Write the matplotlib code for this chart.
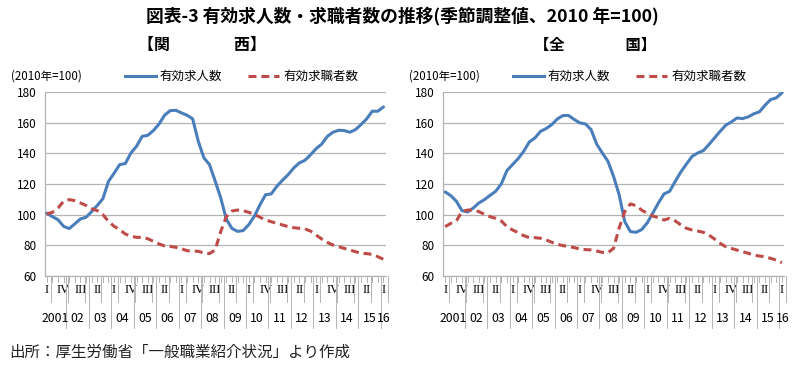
import matplotlib
matplotlib.use("Agg")
import matplotlib.pyplot as plt
import matplotlib.transforms as mtransforms

plt.rcParams['font.family'] = ['Noto Sans CJK JP', 'DejaVu Sans']

# 四半期データ 2001 I 〜 2016 I (季節調整値, 2010年=100)
kansai_offers = [101, 98.7, 96.7, 92.4, 90.9, 94, 97.2, 98.3, 102, 106,
                 110.4, 121.7, 127, 132.6, 133.3, 140.2, 144.6, 151, 151.7, 154.8,
                 159, 164.8, 167.8, 168, 166.3, 164.8, 162.4, 147.8, 137, 132.6,
                 122, 110.9, 97, 91, 89.1, 89.6, 93.5, 99, 106.5, 113,
                 113.5, 118.5, 122.4, 126, 130.4, 133.7, 135.4, 139, 143, 146,
                 151, 153.7, 155, 154.8, 153.7, 155.4, 158.7, 162.4, 167.4, 167.4,
                 170.2]
kansai_seekers = [100.5, 101.5, 104.3, 108.7, 109.8, 109.1, 107.6, 106, 103.9, 102.6,
                  100, 95.6, 92.4, 90.2, 87.4, 85.9, 85.2, 85.2, 84.3, 82.6,
                  80.9, 79.6, 79.3, 78.7, 77.8, 76.5, 76.3, 76.1, 75, 74.6,
                  77, 89, 98.7, 102.4, 103, 102.6, 101.5, 100.2, 98.3, 96.5,
                  95.4, 94.3, 93.3, 92.2, 91.5, 91.1, 90.7, 89.3, 86.7, 84.1,
                  81.9, 80.2, 79.1, 78, 76.9, 75.9, 74.8, 74.6, 74.1, 72.6,
                  70.9]
zenkoku_offers = [114.8, 112.4, 108.7, 102.6, 101.7, 104.3, 107.6, 109.8, 112.6, 115.2,
                  120, 128.7, 132.6, 136.5, 141.3, 147.4, 150, 154.3, 156.1, 158.7,
                  162.4, 164.6, 164.6, 162, 159.8, 159.1, 155.4, 146, 140.2, 134.8,
                  125, 113, 95.5, 89, 88.5, 90.2, 94.6, 101, 107.6, 113.5,
                  115.2, 121.7, 127.8, 133, 138, 140.2, 141.7, 145.7, 150, 154.3,
                  158.3, 160.4, 163, 162.6, 163.7, 165.7, 167, 171.3, 175, 176.1,
                  179.3]
zenkoku_seekers = [92.2, 94.3, 95.9, 102, 103, 103, 102, 100.2, 98.7, 97.6,
                   95.9, 92.2, 90, 88.3, 86.3, 85, 85, 84.6, 83.5, 82,
                   80.7, 79.8, 79.3, 78.5, 77.6, 77.2, 77, 76.3, 75.4, 75.2,
                   78, 91.3, 102, 107, 105.9, 103, 100.9, 99.1, 98, 96.5,
                   97.6, 95.9, 93.3, 91.1, 90, 89.3, 88.5, 86.7, 84.1, 81.3,
                   79.1, 78, 76.9, 75.9, 74.8, 73.7, 73, 72.6, 71.5, 70.4,
                   68.7]

quarter_names = ["I", "II", "III", "IV"]
year_labels = ["2001", "02", "03", "04", "05", "06", "07", "08", "09", "10",
               "11", "12", "13", "14", "15", "16"]
yticks = [60, 80, 100, 120, 140, 160, 180]

BLUE = "#4a7ebb"
RED = "#be4b48"
GRID = "#b4b4b4"
n = len(kansai_offers)
x = list(range(n))

fig = plt.figure(figsize=(8, 3.72), dpi=100)

fig.text(0.503, 0.958, "図表-3 有効求人数・求職者数の推移(季節調整値、2010 年=100)",
         ha="center", va="center", fontsize=12.8, fontweight="bold")
fig.text(0.172, 0.88, "【関　　　　西】", ha="left", va="center", fontsize=11.5, fontweight="bold")
fig.text(0.668, 0.88, "【全　　　　国】", ha="left", va="center", fontsize=11, fontweight="bold")
fig.text(0.012, 0.052, "出所：厚生労働省「一般職業紹介状況」より作成",
         ha="left", va="center", fontsize=11.2, color="#222222")


def draw_panel(rect, offers, seekers, legend_x):
    ax = fig.add_axes(rect)
    ax.plot(x, offers, color=BLUE, lw=2.2, solid_capstyle="round", zorder=3)
    ax.plot(x, seekers, color=RED, lw=2.2, dashes=(2.6, 1.6), zorder=3)
    ax.set_xlim(-0.35, n - 1 + 0.45)
    ax.set_ylim(60, 180)
    ax.set_yticks(yticks)
    ax.tick_params(axis="y", length=0, labelsize=8.5, pad=6)
    ax.yaxis.grid(True, color=GRID, lw=0.9)
    ax.set_axisbelow(True)
    for s in ["top", "right"]:
        ax.spines[s].set_visible(False)
    for s in ["left", "bottom"]:
        ax.spines[s].set_color(GRID)
        ax.spines[s].set_linewidth(0.9)

    # 四半期ラベル (3期ごと)
    ticks = list(range(0, n, 3))
    ax.set_xticks(ticks)
    ax.set_xticklabels([quarter_names[i % 4] for i in ticks],
                       fontfamily="Liberation Serif", fontsize=9)
    ax.tick_params(axis="x", length=0, pad=6)

    trans = mtransforms.blended_transform_factory(ax.transData, ax.transAxes)
    for i in range(n):
        ax.plot([i, i], [0, -0.035], transform=trans, color=GRID, lw=0.7, clip_on=False)
    for t in ticks:
        ax.plot([t + 0.75, t + 0.75], [0, -0.14], transform=trans, color=GRID, lw=0.7, clip_on=False)
    for k, lab in enumerate(year_labels):
        if k < len(year_labels) - 1:
            cx = 4 * k + 1.5
        else:
            cx = 4 * k + 0.1
        ax.text(cx, -0.228, lab, transform=trans, ha="center", va="center", fontsize=8.8)
        if k > 0:
            ax.plot([4 * k - 0.5] * 2, [0, -0.28], transform=trans, color=GRID,
                    lw=0.7, clip_on=False)

    ax.text(-0.1, 1.085, "(2010年=100)", transform=ax.transAxes, fontsize=8.3,
            ha="left", va="center")
    lx = legend_x
    ax.plot([lx, lx + 0.09], [1.085, 1.085], transform=ax.transAxes, color=BLUE, lw=2.2,
            clip_on=False)
    ax.text(lx + 0.1, 1.085, "有効求人数", transform=ax.transAxes, fontsize=9,
            ha="left", va="center")
    ax.plot([lx + 0.36, lx + 0.45], [1.085, 1.085], transform=ax.transAxes, color=RED,
            lw=2.2, dashes=(2.6, 1.6), clip_on=False)
    ax.text(lx + 0.465, 1.085, "有効求職者数", transform=ax.transAxes, fontsize=9,
            ha="left", va="center")
    return ax


draw_panel([0.056, 0.258, 0.4265, 0.495], kansai_offers, kansai_seekers, 0.235)
draw_panel([0.554, 0.258, 0.4265, 0.495], zenkoku_offers, zenkoku_seekers, 0.205)

fig.savefig("out.png", dpi=100)
